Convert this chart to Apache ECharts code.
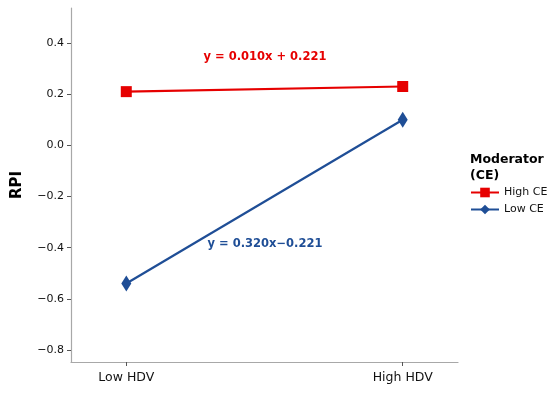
<!DOCTYPE html>
<html><head><meta charset="utf-8">
<script src="https://cdn.jsdelivr.net/npm/echarts@6/dist/echarts.min.js"></script>
<style>html,body{margin:0;padding:0;background:#fff}#c{width:550px;height:393px}</style>
</head><body><div id="c"></div>
<script>
const categories = ["Low HDV", "High HDV"];
const highCE = [0.21, 0.23];
const lowCE = [-0.54, 0.10];
const yTicks = [-0.8, -0.6, -0.4, -0.2, 0.0, 0.2, 0.4];
const seriesNames = ["High CE", "Low CE"];
const equations = ["y = 0.010x + 0.221", "y = 0.320x\u22120.221"];

const RED = "#e60000", BLUE = "#1f4e96";
const chart = echarts.init(document.getElementById('c'));
const fmtY = v => { const s = Math.abs(v).toFixed(1); return v < -1e-9 ? "\u2212" + s : s; };
chart.setOption({
  animation: false,
  grid: {left: 71, right: 92, top: 8, bottom: 31},
  xAxis: {
    type: 'value', min: -0.2, max: 1.2,
    splitLine: {show: false},
    axisLine: {onZero: false, lineStyle: {color: '#a8a8a8', width: 1.2}},
    axisTick: {customValues: [0, 1], length: 4, lineStyle: {color: '#555'}},
    axisLabel: {customValues: [0, 1], formatter: v => categories[Math.round(v)], color: '#111', fontSize: 12.5, fontFamily: 'DejaVu Sans', margin: 9}
  },
  yAxis: {
    type: 'value', min: -0.847, max: 0.537,
    splitLine: {show: false},
    axisLine: {show: true, onZero: false, lineStyle: {color: '#a8a8a8', width: 1.2}},
    axisTick: {show: true, customValues: yTicks, length: 4, lineStyle: {color: '#555'}},
    axisLabel: {customValues: yTicks, formatter: fmtY, color: '#111', fontSize: 11, fontFamily: 'DejaVu Sans', margin: 7},
    name: 'RPI', nameLocation: 'middle', nameGap: 46,
    nameTextStyle: {fontSize: 15, fontWeight: 'bold', color: '#000', fontFamily: 'DejaVu Sans'}
  },
  legend: {
    left: 465, top: 182, orient: 'vertical', itemWidth: 28, itemHeight: 12, itemGap: 6,
    textStyle: {fontSize: 11, color: '#111', fontFamily: 'DejaVu Sans'},
    data: seriesNames
  },
  series: [
    {name: seriesNames[0], type: 'line', data: highCE.map((v,i)=>[i,v]), color: RED,
     lineStyle: {width: 2.2, color: RED}, symbol: 'rect', symbolSize: 11, itemStyle: {color: RED}},
    {name: seriesNames[1], type: 'line', data: lowCE.map((v,i)=>[i,v]), color: BLUE,
     lineStyle: {width: 2.2, color: BLUE}, symbol: 'diamond', symbolSize: [10, 16], itemStyle: {color: BLUE}}
  ],
  graphic: [
    {type: 'text', left: 470, top: 152, style: {text: 'Moderator\n(CE)', font: 'bold 12.5px "DejaVu Sans"', fill: '#000', lineHeight: 16}},
    {type: 'text', x: 265, y: 57, style: {text: equations[0], font: 'bold 11.5px "DejaVu Sans"', fill: RED, align: 'center', verticalAlign: 'middle'}},
    {type: 'text', x: 265, y: 244, style: {text: equations[1], font: 'bold 11.5px "DejaVu Sans"', fill: BLUE, align: 'center', verticalAlign: 'middle'}}
  ]
});
</script></body></html>
